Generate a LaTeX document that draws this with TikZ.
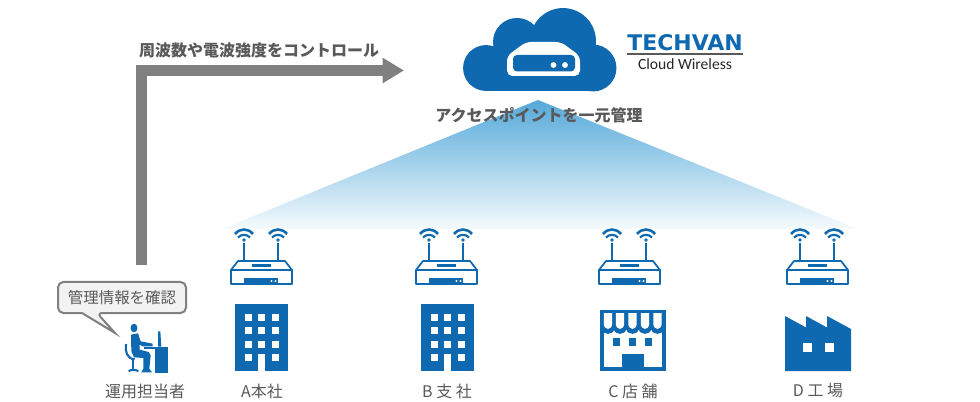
\documentclass[tikz,border=0pt]{standalone}
\usepackage{fontspec}
\usepackage{graphicx}
\setmainfont{Noto Sans CJK JP}
\newfontfamily\logofont{DejaVu Sans}
\newfontfamily\subfont{Carlito}
\usetikzlibrary{arrows.meta}
\definecolor{iconblue}{HTML}{0F69B0}
\definecolor{txtgray}{HTML}{595959}
\definecolor{arrgray}{HTML}{808080}
\definecolor{skytop}{HTML}{55A9DA}
\definecolor{skymid}{HTML}{A9D4EC}
\tikzset{
  px/.style={x=0.75pt,y=-0.75pt},
  head/.style={font=\fontsize{12}{14}\bfseries\selectfont,text=txtgray,inner sep=0pt},
  lbl/.style={font=\fontsize{12}{14}\selectfont,text=txtgray,inner sep=0pt},
  pics/routericon/.style={code={
    \foreach \ax in {-18,16}{
      \draw[iconblue,line width=0.9pt] (\ax,-17) -- (\ax,1);
      \draw[iconblue,line width=1.9pt] (\ax-9,-26) .. controls (\ax-4,-32) and (\ax+4,-32) .. (\ax+9,-26);
      \draw[iconblue,line width=1.6pt] (\ax-6,-22.5) .. controls (\ax-3,-26) and (\ax+3,-26) .. (\ax+6,-22.5);
      \fill[iconblue] (\ax,-20) circle[radius=1.4pt];
    }
    \draw[iconblue,line width=1.3pt,fill=white,line join=round] (-24,1) -- (23,1) -- (30,10) -- (30,24) -- (-31,24) -- (-31,10) -- cycle;
    \draw[iconblue,line width=1.3pt] (-31,10) -- (30,10);
    \fill[iconblue] (-10,4.5) rectangle (9,7);
    \fill[iconblue] (-18,18) rectangle (16,24);
    \fill[white] (9.5,21) circle[radius=0.8pt] (13.5,21) circle[radius=0.8pt];
  }},
  pics/buildingicon/.style={code={
    \fill[iconblue] (0,0) rectangle (53,67);
    \foreach \wx in {10,23,37}{\foreach \wy in {10,23,37}{
      \fill[white] (\wx,\wy) rectangle ++(6.5,6.5);}}
    \fill[white] (10,50) rectangle ++(6.5,7);
    \fill[white] (37,50) rectangle ++(6.5,7);
    \fill[white] (23,50) rectangle (29.5,67);
  }}
}
\begin{document}
\begin{tikzpicture}[px]
\useasboundingbox (0,0) rectangle (980,402);
% gradient triangle
\begin{scope}
  \clip (538,100) -- (858,229) -- (222,229) -- cycle;
  \shade[top color=skytop, bottom color=white, middle color=skymid] (222,100) rectangle (860,236);
\end{scope}
% control arrow
\coordinate (opstart) at (141.5,265);
\coordinate (opbend) at (141.5,70.5);
\coordinate (cloudtip) at (404,70.5);
\draw[arrgray,line width=8.25pt,-{Triangle[length=16pt,width=18pt]}] (opstart) -- (opbend) -- (cloudtip);
% cloud
\fill[iconblue] (486,68) circle[radius=17.2pt] (517,42) circle[radius=18pt] (563,41) circle[radius=24.7pt] (593,68) circle[radius=17.6pt];
\fill[iconblue] (486,55) rectangle (593,91);
\fill[iconblue] (510,35) rectangle (570,60);
\fill[white,rounded corners=4pt] (507,76) -- (507,56) -- (526,42) -- (561,42) -- (580,56) -- (580,76) -- cycle;
\fill[iconblue,rounded corners=3pt] (513,55) rectangle (575,71.5);
\fill[white] (553.5,65) circle[radius=2.2pt] (565,65) circle[radius=2.2pt];
% logo
\node (logotop) at (685,43) [inner sep=0pt,text=iconblue] {\resizebox{86.5pt}{12pt}{\logofont\bfseries TECHVAN}};
\draw[txtgray,line width=0.9pt] (627,54) -- (743,54);
\node (logosub) at (685,64) [inner sep=0pt,text=black!85] {\resizebox{70.5pt}{!}{\subfont Cloud Wireless}};
% headings
\node[head] (ctl) at (259,50) {周波数や電波強度をコントロール};
\node[head] (mgmt) at (539,115) {アクセスポイントを一元管理};
% routers and buildings
\pic at (262,260) {routericon};
\pic at (447,260) {routericon};
\pic at (630,260) {routericon};
\pic at (818,260) {routericon};
\pic at (235,304) {buildingicon};
\pic at (421,304) {buildingicon};
% store
\fill[iconblue] (600,310) rectangle (666,371);
\fill[white] (604,330) rectangle (662,367);
\foreach \sx in {608,620,632.5,645,657.5}{
  \fill[iconblue] (\sx-6.3,329) -- (\sx+6.3,329) .. controls (\sx+5,335.5) and (\sx-5,335.5) .. (\sx-6.3,329) -- cycle;
  \fill[white] (\sx-4.2,313) -- (\sx+4.2,313) -- (\sx+4.2,324) .. controls (\sx+3.5,330.5) and (\sx-3.5,330.5) .. (\sx-4.2,324) -- cycle;
}
\foreach \wx in {613,629,645}{\fill[iconblue] (\wx,338) rectangle ++(7,8);}
\fill[iconblue] (622,354) rectangle (644,368);
% factory
\fill[iconblue] (785,316) -- (806,327.5) -- (806,316) -- (827,327.5) -- (827,316) -- (851,329) -- (851,371) -- (785,371) -- cycle;
\fill[white] (803,343) rectangle ++(9,9);
\fill[white] (825,343) rectangle ++(9,9);
% callout
\draw[arrgray,line width=1.5pt,fill=black!5,rounded corners=4pt] (58,282) -- (186,282) -- (186,313) -- (97,313) [sharp corners] -- (115,333) -- (82,313) [rounded corners=4pt] -- (58,313) -- cycle;
\node[lbl] (bubble) at (122,298) {\fontsize{11.6}{14}\selectfont 管理情報を確認};
% operator
\begin{scope}[shift={(120,318)},x=0.25pt,y=-0.25pt]
  \fill[iconblue] (42,30) ellipse[x radius=2.6pt,y radius=3.2pt];
  \fill[iconblue] (33,50) -- (54,46) -- (62,70) -- (98,77) -- (98,85) -- (68,85) -- (59,80) -- (59,95) -- (86,102) -- (92,112) -- (88,152) -- (96,163) -- (64,163) -- (70,152) -- (70,120) -- (42,118) -- (34,100) -- cycle;
  \draw[iconblue,line width=1.6pt] (18,78) .. controls (15,100) and (20,122) .. (44,124);
  \draw[iconblue,line width=1.5pt] (40,122) -- (40,155);
  \draw[iconblue,line width=1.5pt] (26,160) .. controls (30,154) and (50,154) .. (55,160);
  \fill[iconblue] (105,90) rectangle (143,166);
  \fill[iconblue] (72,87) rectangle (143,92);
  \fill[iconblue] (114,40) -- (121,40) -- (124,86) -- (114,86) -- cycle;
\end{scope}
% labels
\node[lbl] (opname) at (145,391) {運用担当者};
\node[lbl] (siteA) at (262,391) {A本社};
\node[lbl] (siteB) at (447,391) {B 支 社};
\node[lbl] (siteC) at (633,391) {C 店 舗};
\node[lbl] (siteD) at (818,391) {D 工 場};
\end{tikzpicture}
\end{document}
